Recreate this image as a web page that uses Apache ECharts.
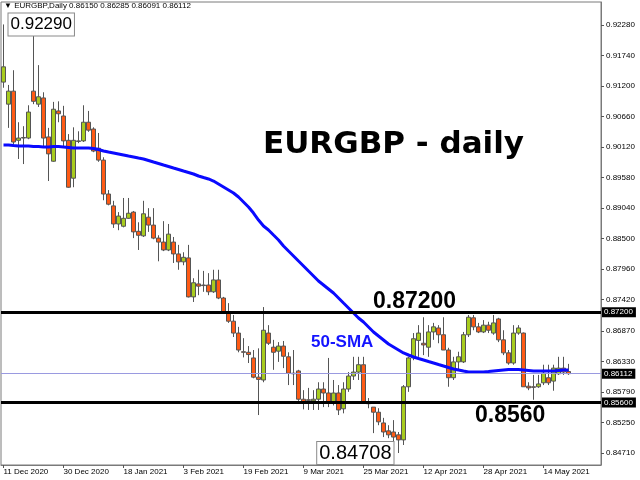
<!DOCTYPE html>
<html><head><meta charset="utf-8">
<script src="https://cdn.jsdelivr.net/npm/echarts@6/dist/echarts.min.js"></script>
<style>html,body{margin:0;padding:0;background:#fff}#c{width:640px;height:480px}</style>
</head><body><div id="c"></div>
<script>
var dates = ["11 Dec 2020","14 Dec 2020","15 Dec 2020","16 Dec 2020","17 Dec 2020","18 Dec 2020","21 Dec 2020","22 Dec 2020","23 Dec 2020","24 Dec 2020","28 Dec 2020","29 Dec 2020","30 Dec 2020","31 Dec 2020",
"4 Jan 2021","5 Jan 2021","6 Jan 2021","7 Jan 2021","8 Jan 2021","11 Jan 2021","12 Jan 2021","13 Jan 2021","14 Jan 2021","15 Jan 2021","18 Jan 2021","19 Jan 2021","20 Jan 2021","21 Jan 2021","22 Jan 2021","25 Jan 2021","26 Jan 2021","27 Jan 2021","28 Jan 2021","29 Jan 2021",
"1 Feb 2021","2 Feb 2021","3 Feb 2021","4 Feb 2021","5 Feb 2021","8 Feb 2021","9 Feb 2021","10 Feb 2021","11 Feb 2021","12 Feb 2021","15 Feb 2021","16 Feb 2021","17 Feb 2021","18 Feb 2021","19 Feb 2021","22 Feb 2021","23 Feb 2021","24 Feb 2021","25 Feb 2021","26 Feb 2021",
"1 Mar 2021","2 Mar 2021","3 Mar 2021","4 Mar 2021","5 Mar 2021","8 Mar 2021","9 Mar 2021","10 Mar 2021","11 Mar 2021","12 Mar 2021","15 Mar 2021","16 Mar 2021","17 Mar 2021","18 Mar 2021","19 Mar 2021","22 Mar 2021","23 Mar 2021","24 Mar 2021","25 Mar 2021","26 Mar 2021","29 Mar 2021","30 Mar 2021","31 Mar 2021",
"1 Apr 2021","2 Apr 2021","5 Apr 2021","6 Apr 2021","7 Apr 2021","8 Apr 2021","9 Apr 2021","12 Apr 2021","13 Apr 2021","14 Apr 2021","15 Apr 2021","16 Apr 2021","19 Apr 2021","20 Apr 2021","21 Apr 2021","22 Apr 2021","23 Apr 2021","26 Apr 2021","27 Apr 2021","28 Apr 2021","29 Apr 2021","30 Apr 2021",
"3 May 2021","4 May 2021","5 May 2021","6 May 2021","7 May 2021","10 May 2021","11 May 2021","12 May 2021","13 May 2021","14 May 2021","17 May 2021","18 May 2021","19 May 2021","20 May 2021","21 May 2021"];

var opens = [0.9127,0.9088,0.9111,0.9024,0.9028,0.9028,0.9111,0.9088,0.9099,0.9030,
0.8987,0.9076,0.9067,0.9024,0.8957,0.9022,0.9023,0.9056,0.9044,0.9010,
0.8989,0.8929,0.8908,0.8876,0.8872,0.8886,0.8897,0.8863,0.8855,0.8888,
0.8874,0.8851,0.8844,0.8830,0.8844,0.8823,0.8809,0.8816,0.8747,0.8770,
0.8768,0.8768,0.8756,0.8777,0.8745,0.8718,0.8704,0.8683,0.8650,0.8649,
0.8639,0.8605,0.8600,0.8683,0.8658,0.8651,0.8660,0.8641,0.8612,0.8616,
0.8566,0.8565,0.8563,0.8566,0.8584,0.8577,0.8559,0.8577,0.8549,0.8584,
0.8607,0.8614,0.8627,0.8561,0.8552,0.8543,0.8524,0.8510,0.8508,0.8503,
0.8494,0.8588,0.8639,0.8670,0.8665,0.8658,0.8685,0.8692,0.8680,0.8653,
0.8604,0.8632,0.8632,0.8680,0.8710,0.8694,0.8685,0.8697,0.8683,0.8708,
0.8671,0.8648,0.8630,0.8683,0.8683,0.8589,0.8588,0.8588,0.8595,0.8604,
0.8598,0.8611,0.8621,0.86150];

var closes = [0.9154,0.9111,0.9021,0.9028,0.9029,0.9074,0.9093,0.9101,0.9028,0.9000,
0.9079,0.9071,0.9023,0.8941,0.9024,0.9023,0.9056,0.9042,0.9005,0.8989,
0.8929,0.8911,0.8876,0.8890,0.8886,0.8895,0.8862,0.8856,0.8894,0.8874,
0.8851,0.8844,0.8830,0.8858,0.8823,0.8809,0.8817,0.8747,0.8772,0.8766,
0.8767,0.8756,0.8777,0.8745,0.8720,0.8704,0.8683,0.8653,0.8649,0.8645,
0.8605,0.8601,0.8688,0.8665,0.8649,0.8660,0.8642,0.8612,0.8611,0.8566,
0.8561,0.8564,0.8566,0.8584,0.8577,0.8559,0.8577,0.8547,0.8584,0.8607,
0.8614,0.8627,0.8561,0.8558,0.8543,0.8526,0.8508,0.8503,0.8499,0.8494,
0.8588,0.8639,0.8673,0.8683,0.8662,0.8685,0.8694,0.8680,0.8653,0.8604,
0.8632,0.8641,0.8680,0.8711,0.8694,0.8685,0.8697,0.8688,0.8701,0.8671,
0.8648,0.8630,0.8683,0.8692,0.8588,0.8586,0.8587,0.8593,0.8612,0.8595,
0.8621,0.8621,0.8614,0.86112];

var lows = [0.9117,0.9046,0.9016,0.8991,0.8982,0.9026,0.9088,0.9083,0.9012,0.8952,
0.8986,0.9056,0.9014,0.8940,0.8941,0.9019,0.9021,0.9039,0.9003,0.8986,
0.8918,0.8909,0.8869,0.8865,0.8870,0.8885,0.8851,0.8830,0.8853,0.8862,
0.8849,0.8810,0.8828,0.8828,0.8807,0.8795,0.8803,0.8746,0.8738,0.8750,
0.8756,0.8750,0.8754,0.8743,0.8718,0.8701,0.8676,0.8649,0.8640,0.8630,
0.8603,0.8538,0.8596,0.8662,0.8618,0.8632,0.8621,0.8591,0.8591,0.8563,
0.8548,0.8547,0.8547,0.8547,0.8552,0.8552,0.8555,0.8538,0.8541,0.8579,
0.8600,0.8600,0.8559,0.8550,0.8506,0.8520,0.8499,0.8497,0.8485,0.84708,
0.8485,0.8579,0.8635,0.8641,0.8644,0.8641,0.8671,0.8665,0.8653,0.8588,
0.8600,0.8618,0.8630,0.8676,0.8688,0.8683,0.8683,0.8683,0.8680,0.8667,
0.8644,0.8627,0.8627,0.8680,0.8588,0.8582,0.8565,0.8586,0.8591,0.8591,
0.8581,0.8609,0.8609,0.86091];

var highs = [0.9229,0.9122,0.9148,0.9056,0.9049,0.9086,0.9215,0.9157,0.9109,0.9046,
0.9092,0.9093,0.9085,0.9035,0.9047,0.9040,0.9086,0.9076,0.9047,0.9037,
0.8994,0.8936,0.8917,0.8897,0.8922,0.8922,0.8899,0.8879,0.8917,0.8904,
0.8904,0.8856,0.8881,0.8876,0.8853,0.8839,0.8826,0.8839,0.8780,0.8795,
0.8793,0.8789,0.8795,0.8795,0.8747,0.8736,0.8715,0.8694,0.8674,0.8660,
0.8653,0.8656,0.8729,0.8697,0.8671,0.8667,0.8669,0.8649,0.8653,0.8618,
0.8582,0.8586,0.8582,0.8596,0.8596,0.8639,0.8600,0.8591,0.8596,0.8614,
0.8641,0.8641,0.8641,0.8568,0.8552,0.8550,0.8533,0.8520,0.8529,0.8508,
0.8591,0.8641,0.8683,0.8697,0.8711,0.8697,0.8701,0.8697,0.8711,0.8657,
0.8641,0.8650,0.8685,0.8715,0.8715,0.8701,0.8706,0.8703,0.8715,0.8710,
0.8688,0.8653,0.8697,0.8697,0.8684,0.8596,0.8609,0.8609,0.8627,0.8627,
0.8627,0.8641,0.8641,0.86285];

var sma50 = [0.90157,0.90157,0.90148,0.90140,0.90140,0.90140,0.90131,0.90131,0.90122,0.90122,
0.90131,0.90131,0.90122,0.90113,0.90104,0.90104,0.90104,0.90104,0.90095,0.90078,
0.90051,0.90033,0.90016,0.89998,0.89980,0.89962,0.89945,0.89927,0.89910,0.89883,
0.89856,0.89830,0.89803,0.89777,0.89750,0.89724,0.89697,0.89671,0.89644,0.89609,
0.89582,0.89556,0.89520,0.89467,0.89414,0.89361,0.89308,0.89237,0.89149,0.89060,
0.88954,0.88830,0.88724,0.88654,0.88565,0.88477,0.88371,0.88282,0.88194,0.88105,
0.88017,0.87928,0.87840,0.87751,0.87681,0.87610,0.87539,0.87451,0.87362,0.87274,
0.87185,0.87097,0.87026,0.86938,0.86849,0.86778,0.86708,0.86637,0.86584,0.86531,
0.86478,0.86442,0.86407,0.86380,0.86354,0.86327,0.86301,0.86274,0.86248,0.86221,
0.86195,0.86177,0.86159,0.86142,0.86142,0.86142,0.86142,0.86150,0.86159,0.86168,
0.86177,0.86186,0.86186,0.86186,0.86177,0.86168,0.86159,0.86159,0.86159,0.86159,
0.86159,0.86168,0.86177,0.86177];

var yTicks = [0.92280,0.91740,0.91200,0.90660,0.90120,0.89580,0.89040,0.88500,0.87960,0.87420,0.86870,0.86330,0.85790,0.85250,0.84710];
var resistance = 0.87200, support = 0.85600, lastPrice = 0.86112;
var periodHigh = 0.92290, periodLow = 0.84708;
var header = {symbol: 'EURGBP,Daily', o: '0.86150', h: '0.86285', l: '0.86091', c: '0.86112'};

var cats = dates.slice();
for (var k = 0; k < 6; k++) cats.push('');
var candles = dates.map(function (d, i) { return [opens[i], closes[i], lows[i], highs[i]]; });

var FONT = '"Liberation Sans", Arial, sans-serif';
function tagLabel(txt) {
  return {show: true, position: 'end', distance: 1, formatter: txt, backgroundColor: '#000',
    color: '#fff', fontSize: 8, fontFamily: FONT, padding: [1, 3, 1, 2]};
}
function boxLabel(txt, pos, size) {
  return {show: true, position: pos, distance: 5, formatter: txt, backgroundColor: '#fff',
    borderColor: '#8a8a8a', borderWidth: 1, color: '#000', fontSize: size, fontFamily: FONT,
    lineHeight: 20, padding: [2, 2, 0, 2]};
}

var chart = echarts.init(document.getElementById('c'), null, {renderer: 'canvas'});
chart.setOption({
  animation: false,
  backgroundColor: '#fff',
  grid: {left: 1, right: 39, top: 2, bottom: 15, show: true, borderColor: '#7a7a7a', borderWidth: 1, backgroundColor: 'transparent'},
  xAxis: {
    type: 'category', data: cats, boundaryGap: true,
    axisLine: {show: true, lineStyle: {color: '#7a7a7a'}},
    axisTick: {show: true, interval: 11, alignWithLabel: true, length: 3, lineStyle: {color: '#555'}},
    axisLabel: {interval: 11, fontSize: 8, color: '#000', fontFamily: FONT, align: 'left', margin: 3, hideOverlap: false},
    splitLine: {show: false}
  },
  yAxis: {
    type: 'value', position: 'right', min: 0.84496, max: 0.92687, scale: true,
    axisLine: {show: true, lineStyle: {color: '#7a7a7a'}},
    axisTick: {show: true, length: 3, customValues: yTicks, lineStyle: {color: '#555'}},
    axisLabel: {customValues: yTicks, fontSize: 8, color: '#000', fontFamily: FONT, margin: 5,
      formatter: function (v) { return v.toFixed(5); }},
    splitLine: {show: false}
  },
  series: [
    {
      type: 'candlestick', data: candles, barWidth: 4,
      itemStyle: {color: '#a8cc1e', color0: '#ff5a14', borderColor: '#555', borderColor0: '#555', borderWidth: 1},
      markLine: {
        silent: true, symbol: ['none', 'none'], animation: false, precision: 5,
        data: [
          {yAxis: lastPrice, lineStyle: {color: '#9a9ae0', width: 1, type: 'solid'}, label: tagLabel(lastPrice.toFixed(5))},
          {yAxis: resistance, lineStyle: {color: '#000', width: 3, type: 'solid'}, label: tagLabel(resistance.toFixed(5))},
          {yAxis: support, lineStyle: {color: '#000', width: 3, type: 'solid'}, label: tagLabel(support.toFixed(5))}
        ]
      },
      markPoint: {
        silent: true, symbol: 'circle', symbolSize: 0, animation: false,
        data: [
          {coord: [dates[0], periodHigh], label: boxLabel(periodHigh.toFixed(5), 'right', 17)},
          {coord: [dates[79], periodLow], label: boxLabel(periodLow.toFixed(5), 'left', 20)}
        ]
      },
      z: 2
    },
    {
      type: 'line', data: sma50, symbol: 'none', smooth: false,
      lineStyle: {color: '#0a0aff', width: 3}, z: 3
    }
  ],
  graphic: [
    {type: 'text', left: 263, top: 129, z: 10, style: {text: 'EURGBP - daily', font: 'bold 31px "DejaVu Sans"', fill: '#000'}},
    {type: 'text', left: 373, top: 290, z: 10, style: {text: resistance.toFixed(5), font: 'bold 23px "Liberation Sans"', fill: '#000'}},
    {type: 'text', left: 475, top: 404, z: 10, style: {text: support.toFixed(4), font: 'bold 23px "Liberation Sans"', fill: '#000'}},
    {type: 'text', left: 311, top: 334, z: 10, style: {text: '50-SMA', font: 'bold 17px "Liberation Sans"', fill: '#1414ff'}},
    {type: 'text', left: 4, top: 2, z: 10, style: {text: '\u25BC ' + header.symbol + ' ' + header.o + ' ' + header.h + ' ' + header.l + ' ' + header.c, font: '8px "Liberation Sans"', fill: '#000'}}
  ]
});
</script>
</body></html>
